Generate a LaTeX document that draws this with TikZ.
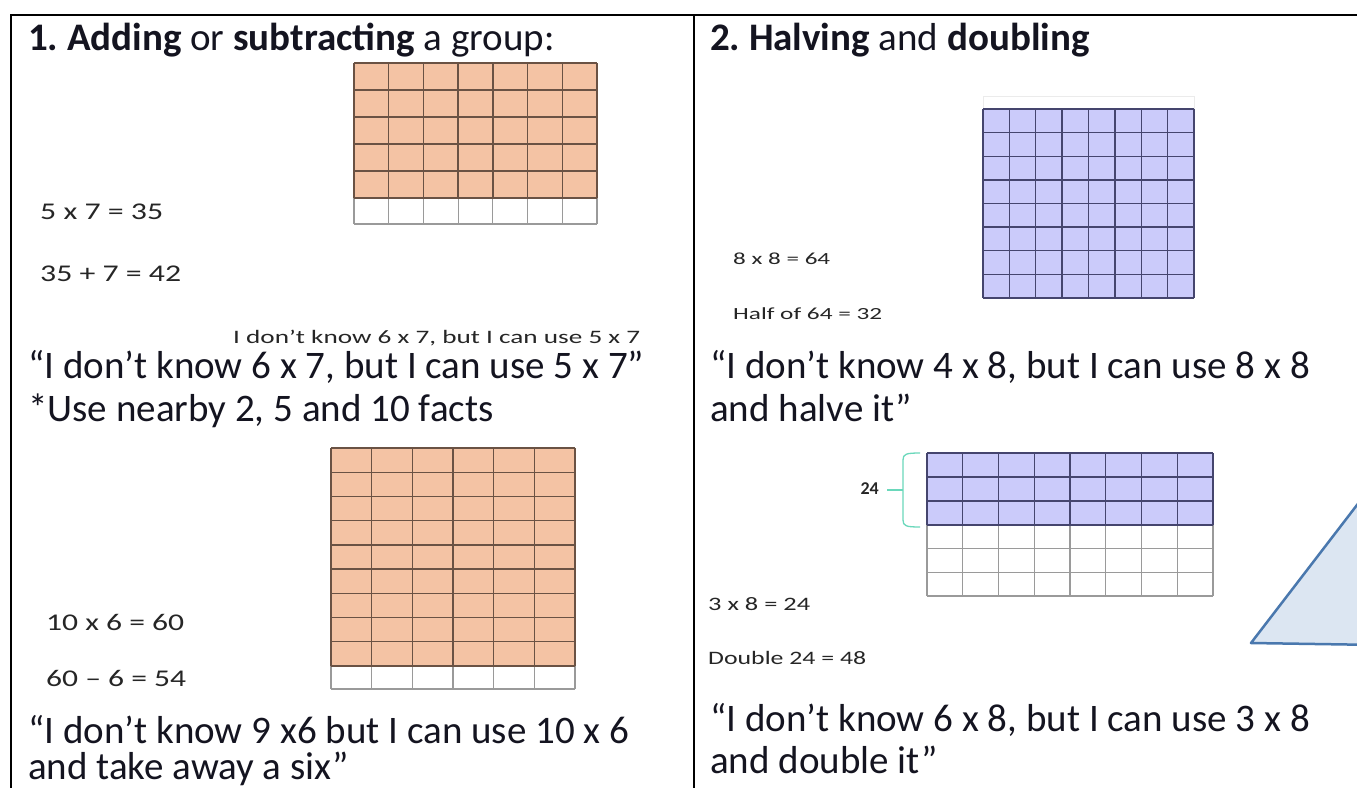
\documentclass[tikz,border=0pt]{standalone}
\usepackage{fontspec}
\setmainfont{Carlito}
\usepackage{graphicx}
\definecolor{orangefill}{HTML}{F4C3A4}
\definecolor{orangeline}{HTML}{6A5244}
\definecolor{purplefill}{HTML}{CBCBFA}
\definecolor{purpleline}{HTML}{45456E}
\definecolor{cellgray}{HTML}{9A9A9A}
\definecolor{bracketmint}{HTML}{6AD8BB}
\definecolor{inkdark}{HTML}{141420}
\definecolor{eqgray}{HTML}{262626}
\definecolor{trifill}{HTML}{DCE6F2}
\definecolor{triedge}{HTML}{4A78AE}
\newcommand{\fitto}[3]{\resizebox{#1}{\height}{\fontsize{#2}{#2}\selectfont #3}}
\tikzset{
  big/.style={anchor=base west, inner sep=0pt, text=inkdark, font=\fontsize{39}{44}\selectfont},
  eq/.style={anchor=base west, inner sep=0pt, text=eqgray},
  frame/.style={line width=2pt, black},
  oline/.style={line width=1.3pt, orangeline},
  pline/.style={line width=1.4pt, purpleline},
  wline/.style={line width=1.1pt, cellgray},
}
\begin{document}
\begin{tikzpicture}[x=1pt,y=-1pt]
\useasboundingbox (0,0) rectangle (1357,787);
\clip (0,0) rectangle (1357,787);
\fill[white] (0,0) rectangle (1357,787);
% frame
\draw[frame] (11,15) -- (1360,15);
\draw[frame] (11,14) -- (11,790);
\draw[frame] (694,14) -- (694,790);

% titles
\node[big] (t1) at (28,50) {\textbf{1.}\hspace{-0.08em} \textbf{Adding} or \textbf{subtracting} a group:};
\node[big] (t2) at (710,50) {\textbf{2.}\hspace{-0.08em} \textbf{Halving} and \textbf{doubling}};

% ---------- grid A (orange 7x6) ----------
\fill[orangefill] (354,63) rectangle (597,198);
\foreach \i in {0,...,7} {
  \draw[oline] ({354+\i*243/7},63) -- ({354+\i*243/7},198);
  \draw[wline] ({354+\i*243/7},198) -- ({354+\i*243/7},224);
}
\foreach \j in {0,...,5} \draw[oline] (354,{63+\j*27}) -- (597,{63+\j*27});
\draw[wline] (354,224) -- (597,224);

\node[eq] (e1) at (40,219) {\fitto{123pt}{24}{5 x 7 = 35}};
\node[eq] (e2) at (40,281) {\fitto{141pt}{24}{35 + 7 = 42}};
\node[eq] (s1) at (233,343) {\fitto{407pt}{19}{I don’t know 6 x 7, but I can use 5 x 7}};
\node[big] (q1) at (28,378) {“I don’t know 6 x 7, but I can use 5 x 7”};
\node[big] (q2) at (28,421) {*Use nearby 2, 5 and 10 facts};

% ---------- grid B (orange 6x10) ----------
\fill[orangefill] (331,448) rectangle (575,666);
\foreach \i in {0,...,6} {
  \draw[oline] ({331+\i*244/6},448) -- ({331+\i*244/6},666);
  \draw[wline] ({331+\i*244/6},666) -- ({331+\i*244/6},689);
}
\foreach \j in {0,...,9} \draw[oline] (331,{448+\j*218/9}) -- (575,{448+\j*218/9});
\draw[wline] (331,689) -- (575,689);

\node[eq] (e3) at (46,630) {\fitto{138pt}{24}{10 x 6 = 60}};
\node[eq] (e4) at (46,686) {\fitto{140pt}{24}{60 – 6 = 54}};
\node[big] (q3) at (28,743) {“I don’t know 9 x6 but I can use 10 x 6};
\node[big] (q4) at (28,779) {and take away a six”};

% ---------- grid C (purple 8x8) ----------
\draw[line width=1pt, black!8] (983,109) -- (983,96) -- (1194,96) -- (1194,109);
\fill[purplefill] (983,109) rectangle (1194,298);
\foreach \i in {0,...,8} \draw[pline] ({983+\i*211/8},109) -- ({983+\i*211/8},298);
\foreach \j in {0,...,8} \draw[pline] (983,{109+\j*189/8}) -- (1194,{109+\j*189/8});

\node[eq] (e5) at (733,264) {\fitto{97pt}{17}{8 x 8 = 64}};
\node[eq] (e6) at (733,319) {\fitto{149pt}{17}{Half of 64 = 32}};
\node[big] (q5) at (710,378) {“I don’t know 4 x 8, but I can use 8 x 8};
\node[big] (q6) at (710,421) {and halve it”};

% ---------- grid D (purple 8 x 3 + white 8 x 3) ----------
\fill[purplefill] (927,453) rectangle (1213,525);
\foreach \i in {0,...,8} {
  \draw[pline] ({927+\i*286/8},453) -- ({927+\i*286/8},525);
  \draw[wline] ({927+\i*286/8},525) -- ({927+\i*286/8},596);
}
\foreach \j in {0,...,3} \draw[pline] (927,{453+\j*24}) -- (1213,{453+\j*24});
\foreach \j in {1,...,3} \draw[wline] (927,{525+\j*71/3}) -- (1213,{525+\j*71/3});

% bracket
\coordinate (bt) at (920,453);
\coordinate (bb) at (920,527);
\coordinate (bm) at (887,490);
\draw[bracketmint, line width=1.3pt] (bt) .. controls (906,453) and (903,454) .. (903,460)
  -- (903,520) .. controls (903,526) and (906,527) .. (bb);
\draw[bracketmint, line width=1.3pt] (bm) -- (903,490);
\node[anchor=east, inner sep=0pt, text=eqgray, font=\fontsize{18}{18}\selectfont\bfseries] (l24) at (879,489) {24};

\node[eq] (e7) at (708,610) {\fitto{102pt}{19}{3 x 8 = 24}};
\node[eq] (e8) at (708,664) {\fitto{158pt}{19}{Double 24 = 48}};
\node[big] (q7) at (710,731) {“I don’t know 6 x 8, but I can use 3 x 8};
\node[big] (q8) at (710,773) {and double it”};

% triangle
\filldraw[fill=trifill, draw=triedge, line width=2.5pt, line join=round]
  (1380,475) -- (1251,643) -- (1380,645);
\end{tikzpicture}
\end{document}
